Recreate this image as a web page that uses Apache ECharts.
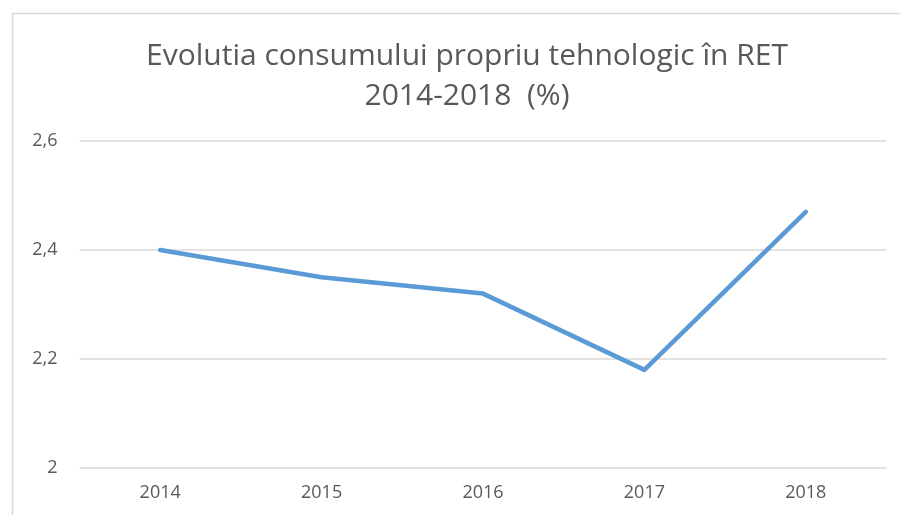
<!DOCTYPE html>
<html>
<head>
<meta charset="utf-8">
<script src="https://cdn.jsdelivr.net/npm/echarts@6/dist/echarts.min.js"></script>
<style>
  html, body { margin: 0; padding: 0; background: #fff; }
  #chart { width: 900px; height: 515px; }
</style>
</head>
<body>
<div id="chart"></div>
<script>
const years = ["2014", "2015", "2016", "2017", "2018"];
const cpt = [2.4, 2.35, 2.32, 2.18, 2.47];
const titleLines = ["Evolutia consumului propriu tehnologic în RET", "2014-2018  (%)"];

const chart = echarts.init(document.getElementById("chart"));
const font = "'Open Sans', 'Liberation Sans', sans-serif";

chart.setOption({
  animation: false,
  graphic: [
    {
      // chart frame, runs off the right and bottom edges
      type: "rect",
      shape: { x: 12.5, y: 13.5, width: 920, height: 540 },
      style: { fill: "none", stroke: "#d9d9d9", lineWidth: 1.5 },
      silent: true
    }
  ],
  title: {
    text: titleLines.join("\n"),
    left: 462,
    textAlign: "center",
    top: 31,
    textStyle: {
      fontFamily: font,
      fontSize: 30,
      fontWeight: "normal",
      color: "#595959",
      lineHeight: 40
    }
  },
  grid: { left: 79.5, right: 13.5, top: 141, bottom: 47 },
  xAxis: {
    type: "category",
    data: years,
    boundaryGap: true,
    axisLine: { show: false },
    axisTick: { show: false },
    axisLabel: { fontFamily: font, fontSize: 18, color: "#595959", margin: 16 }
  },
  yAxis: {
    type: "value",
    min: 2,
    max: 2.6,
    interval: 0.2,
    axisLine: { show: false },
    axisTick: { show: false },
    splitLine: { lineStyle: { color: "#d9d9d9", width: 1.5 } },
    axisLabel: {
      fontFamily: font,
      fontSize: 18,
      color: "#595959",
      margin: 22,
      formatter: v => (Math.round(v * 10) / 10).toString().replace(".", ",")
    }
  },
  series: [
    {
      type: "line",
      data: cpt,
      symbol: "none",
      lineStyle: { color: "#5b9bd5", width: 4.5, cap: "round", join: "round" }
    }
  ]
});
</script>
</body>
</html>
